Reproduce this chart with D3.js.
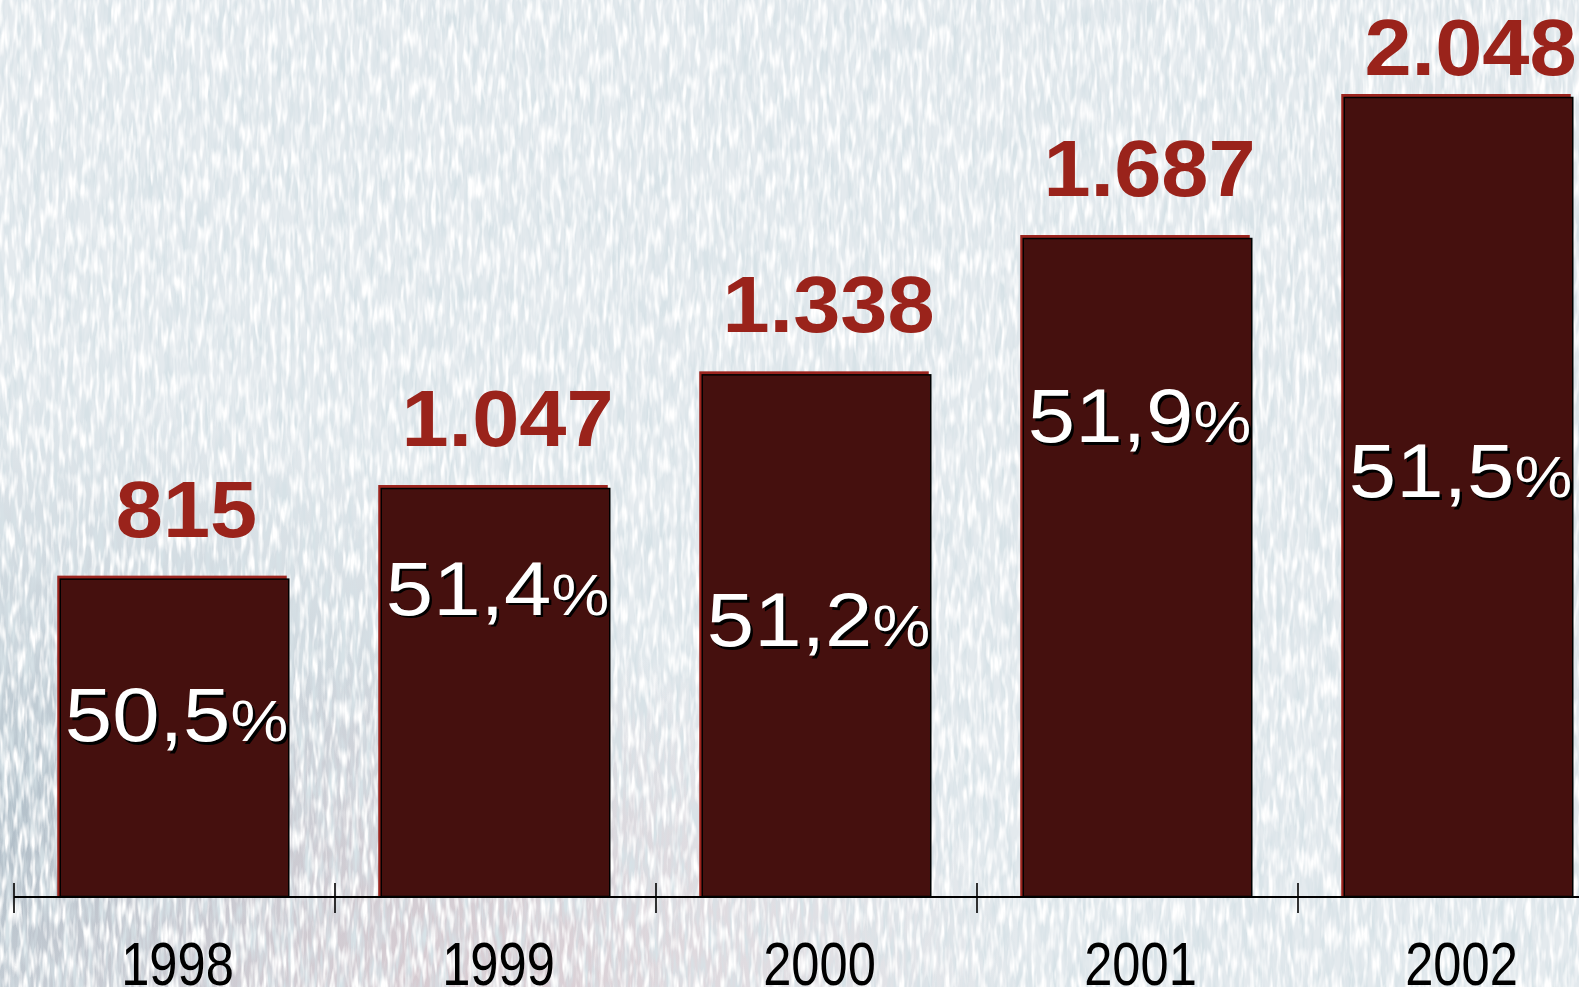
<!DOCTYPE html>
<html>
<head>
<meta charset="utf-8">
<script src="https://d3js.org/d3.v7.min.js"></script>
<style>
  body { margin: 0; overflow: hidden; background: #e6ecef; }
  text { font-family: Arial, "Liberation Sans", sans-serif; }
</style>
</head>
<body>
<div id="my_dataviz"></div>
<script>

// data
var years = ["1998", "1999", "2000", "2001", "2002"];
var totals = [815, 1047, 1338, 1687, 2048];
var shares = [50.5, 51.4, 51.2, 51.9, 51.5];
// where the share label sits, as part of the bar height measured from its top
var shareLabelPos = [0.51, 0.31, 0.52, 0.31, 0.50];

var width = 1579, height = 987;
var baseY = 897;

var svg = d3.select("#my_dataviz")
  .append("svg")
  .attr("width", width)
  .attr("height", height);

// ---- background: pale textured cloth, streaks run up and down ----
var defs = svg.append("defs");

var tex = defs.append("filter")
  .attr("id", "cloth")
  .attr("filterUnits", "userSpaceOnUse")
  .attr("x", 0).attr("y", 0).attr("width", width).attr("height", height);
tex.append("feTurbulence")
  .attr("type", "fractalNoise")
  .attr("baseFrequency", "0.17 0.025")
  .attr("numOctaves", 3)
  .attr("seed", 4);
tex.append("feColorMatrix")
  .attr("type", "matrix")
  .attr("values", "0 0 0 0 0.68  0 0 0 0 0.76  0 0 0 0 0.80  2.6 0 0 0 -1.0");

var tex2 = defs.append("filter")
  .attr("id", "cloth2")
  .attr("filterUnits", "userSpaceOnUse")
  .attr("x", 0).attr("y", 0).attr("width", width).attr("height", height);
tex2.append("feTurbulence")
  .attr("type", "fractalNoise")
  .attr("baseFrequency", "0.22 0.04")
  .attr("numOctaves", 2)
  .attr("seed", 11);
tex2.append("feColorMatrix")
  .attr("type", "matrix")
  .attr("values", "0 0 0 0 1  0 0 0 0 1  0 0 0 0 1  3 0 0 0 -1.3");

var shade = defs.append("radialGradient")
  .attr("id", "shade")
  .attr("cx", 0.0).attr("cy", 0.85).attr("r", 0.45);
shade.append("stop").attr("offset", "0%").attr("stop-color", "#9fb0bc").attr("stop-opacity", 0.75);
shade.append("stop").attr("offset", "100%").attr("stop-color", "#9fb0bc").attr("stop-opacity", 0);

var pink = defs.append("radialGradient")
  .attr("id", "pink")
  .attr("cx", 0.3).attr("cy", 1.0).attr("r", 0.35);
pink.append("stop").attr("offset", "0%").attr("stop-color", "#d8c2c8").attr("stop-opacity", 0.7);
pink.append("stop").attr("offset", "100%").attr("stop-color", "#d8c2c8").attr("stop-opacity", 0);

svg.append("rect").attr("width", width).attr("height", height).attr("fill", "#e4eaee");
svg.append("rect").attr("width", width).attr("height", height).attr("fill", "url(#shade)");
svg.append("rect").attr("width", width).attr("height", height).attr("fill", "url(#pink)");
svg.append("rect").attr("width", width).attr("height", height).attr("filter", "url(#cloth)");
svg.append("rect").attr("width", width).attr("height", height).attr("filter", "url(#cloth2)");

// ---- scales ----
var step = 321;
var x = d3.scaleBand()
  .domain(years)
  .range([14, 14 + step * years.length])
  .paddingInner(0.285)
  .paddingOuter(0.1425);

var y = d3.scaleLinear()
  .domain([0, 2048])
  .range([baseY, 97]);

var thousands = d3.formatLocale({decimal: ",", thousands: ".", grouping: [3], currency: ["", ""]});
var fmtTotal = thousands.format(",d");
var fmtShare = thousands.format(".1f");

var data = years.map(function(d, i) {
  return {year: d, total: totals[i], share: shares[i], pos: shareLabelPos[i]};
});

// ---- bars: red edge up-left, dark body with black rim ----
svg.selectAll(".edge")
  .data(data)
  .enter()
  .append("rect")
  .attr("class", "edge")
  .attr("x", function(d) { return x(d.year) - 2.5; })
  .attr("y", function(d) { return y(d.total) - 3; })
  .attr("width", x.bandwidth())
  .attr("height", function(d) { return baseY - y(d.total) + 3; })
  .style("fill", "#9b241e");

svg.selectAll(".bar")
  .data(data)
  .enter()
  .append("rect")
  .attr("class", "bar")
  .attr("x", function(d) { return x(d.year) + 0.5; })
  .attr("y", function(d) { return y(d.total) + 0.5; })
  .attr("width", x.bandwidth() - 1)
  .attr("height", function(d) { return baseY - y(d.total) - 1; })
  .style("fill", "#45100e")
  .style("stroke", "#000")
  .style("stroke-width", 1.5);

// ---- axis line and ticks at band edges ----
svg.append("line")
  .attr("x1", x.range()[0]).attr("x2", x.range()[1])
  .attr("y1", baseY).attr("y2", baseY)
  .style("stroke", "#000").style("stroke-width", 2);

svg.selectAll(".tick")
  .data(years)
  .enter()
  .append("line")
  .attr("class", "tick")
  .attr("x1", function(d) { return x(d) - x.step() * x.paddingOuter(); })
  .attr("x2", function(d) { return x(d) - x.step() * x.paddingOuter(); })
  .attr("y1", baseY - 14).attr("y2", baseY + 16)
  .style("stroke", "#000").style("stroke-width", 1.6);

// year labels
svg.selectAll(".year")
  .data(data)
  .enter()
  .append("text")
  .attr("class", "year")
  .attr("transform", function(d) {
    return "translate(" + (x(d.year) + x.bandwidth() / 2 + 3) + "," + 985 + ") scale(0.83,1)";
  })
  .attr("text-anchor", "middle")
  .style("font-size", "61px")
  .style("fill", "#000")
  .text(function(d) { return d.year; });

// totals above the bars
svg.selectAll(".total")
  .data(data)
  .enter()
  .append("text")
  .attr("class", "total")
  .attr("transform", function(d) {
    return "translate(" + (x(d.year) + x.bandwidth() / 2 + 12) + "," + Math.max(y(d.total) - 42, 75) + ") scale(1.06,1)";
  })
  .attr("text-anchor", "middle")
  .style("font-size", "80px")
  .style("font-weight", "bold")
  .style("fill", "#9a231b")
  .text(function(d) { return fmtTotal(d.total); });

// share labels inside the bars, with a dark drop shadow
var share = svg.selectAll(".share")
  .data(data)
  .enter()
  .append("g")
  .attr("class", "share")
  .attr("transform", function(d) {
    var top = y(d.total);
    return "translate(" + (x(d.year) + x.bandwidth() / 2 + 2) + "," + (top + (baseY - top) * d.pos) + ")";
  });

[["#000", 2.5], ["#fff", 0]].forEach(function(s) {
  var t = share.append("text")
    .attr("transform", "translate(" + s[1] + "," + s[1] + ") scale(1.12,1)")
    .attr("text-anchor", "middle")
    .style("fill", s[0]);
  t.append("tspan")
    .style("font-size", "76px")
    .text(function(d) { return fmtShare(d.share); });
  t.append("tspan")
    .style("font-size", "58px")
    .text("%");
});

</script>
</body>
</html>
